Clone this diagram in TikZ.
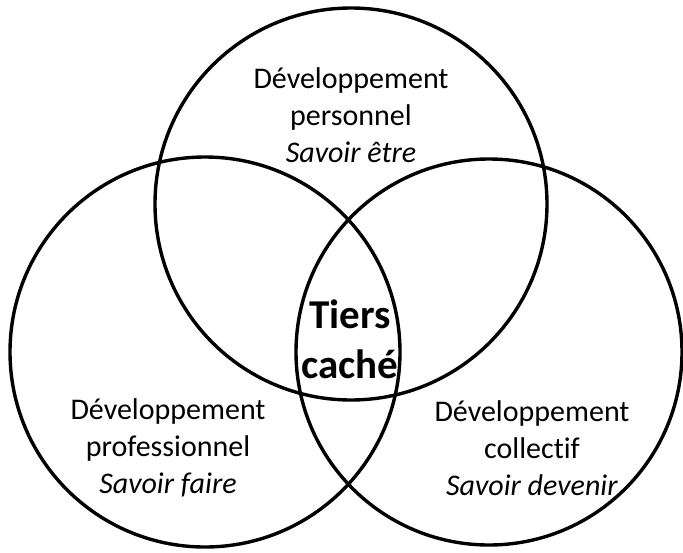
\documentclass[tikz,border=0pt]{standalone}
\usepackage{fontspec}
\setmainfont{Carlito}[Ligatures={NoCommon}]
\begin{document}
\begin{tikzpicture}[x=1pt,y=-1pt,
  ring/.style={line width=3.4pt,draw=black},
  lbl/.style={align=center,font=\fontsize{30}{37}\selectfont,inner sep=0pt},
  mid/.style={align=center,font=\fontsize{41}{50}\selectfont\bfseries,inner sep=0pt}]
\useasboundingbox (0,0) rectangle (683,552);
\draw[ring] (351,204) circle (196);
\draw[ring] (205,352) circle (195);
\draw[ring] (489,352) circle (193);
\node[lbl] (top) at (351,115) {Développement\\personnel\\\textit{Savoir être}};
\node[lbl] (left) at (168,448) {Développement\\professionnel\\\textit{Savoir faire}};
\node[lbl] (right) at (532,448) {Développement\\collectif\\\textit{Savoir devenir}};
\node[mid] (tc) at (350,339) {Tiers\\caché};
\end{tikzpicture}
\end{document}
